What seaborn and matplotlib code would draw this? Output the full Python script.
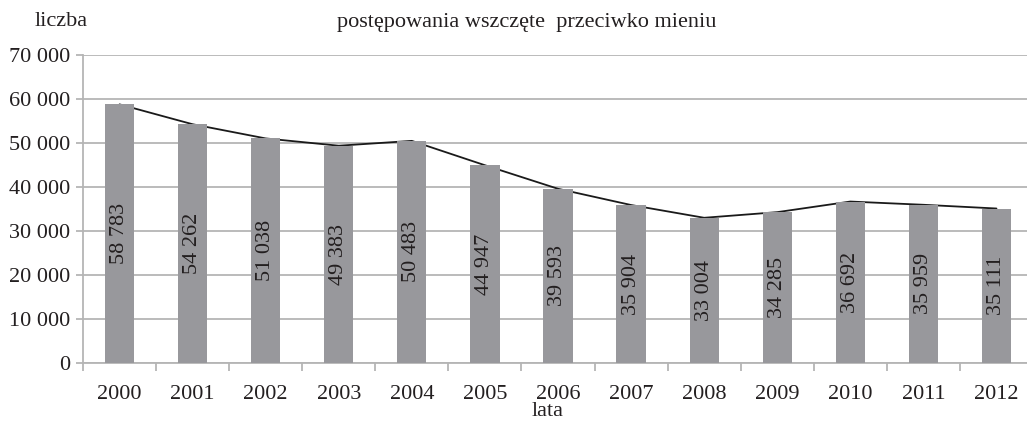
import matplotlib
matplotlib.use("Agg")
import matplotlib.pyplot as plt
import seaborn as sns
import pandas as pd
from matplotlib.ticker import FuncFormatter, FixedLocator

years = ["2000", "2001", "2002", "2003", "2004", "2005", "2006",
         "2007", "2008", "2009", "2010", "2011", "2012"]
values = [58783, 54262, 51038, 49383, 50483, 44947, 39593,
          35904, 33004, 34285, 36692, 35959, 35111]
title = "postępowania wszczęte  przeciwko mieniu"
ylabel = "liczba"
xlabel = "lata"

sns.set_theme(style="white")
plt.rcParams["font.family"] = ["Liberation Serif", "DejaVu Serif"]
TXT = "#231f20"
GRID = "#b5b5b5"
BAR = "#98989c"
FS = 16

df = pd.DataFrame({"rok": years, "liczba": values})

fig = plt.figure(figsize=(10.27, 4.38), dpi=100)
ax = fig.add_axes([83/1027, 1-363/438, 950/1027, 308/438])

sns.barplot(data=df, x="rok", y="liczba", color=BAR, width=0.4,
            saturation=1, ax=ax, zorder=3, linewidth=0)
ax.plot(range(len(values)), values, color="#1a1a1a", lw=1.3, zorder=2)

ax.set_ylim(0, 70000)
ax.set_xlim(-0.5, len(years) - 0.5)
ax.set_yticks(range(0, 70001, 10000))
ax.yaxis.set_major_formatter(FuncFormatter(lambda v, p: f"{int(v):,}".replace(",", " ")))
ax.grid(axis="y", color=GRID, lw=1.3, zorder=0)
ax.set_axisbelow(True)

for s in ["top", "right"]:
    ax.spines[s].set_visible(False)
for s in ["left", "bottom"]:
    ax.spines[s].set_color(GRID)
    ax.spines[s].set_linewidth(1.3)

ax.tick_params(axis="y", which="major", length=5, width=1.3, color=GRID,
               left=True, labelsize=FS, labelcolor=TXT, pad=4)
ax.tick_params(axis="x", which="major", length=0, labelsize=FS,
               labelcolor=TXT, pad=16)
ax.xaxis.set_minor_locator(FixedLocator([i - 0.5 for i in range(len(years) + 1)]))
ax.tick_params(axis="x", which="minor", length=6, width=1.3, color=GRID,
               bottom=True)

ax.set_xlabel("")
ax.set_ylabel("")

for i, v in enumerate(values):
    ax.text(i, v / 2, f"{v:,}".replace(",", " "), rotation=90,
            ha="center", va="center", fontsize=FS, color=TXT, zorder=4)

fig.text(35/1027, 1-22/438, ylabel, ha="left", va="center", fontsize=FS, color=TXT)
fig.text(527/1027, 1-22/438, title, ha="center", va="center", fontsize=FS, color=TXT)
fig.text(548/1027, 1-412/438, xlabel, ha="center", va="center", fontsize=FS, color=TXT)

fig.savefig("out.png", dpi=100, facecolor="white")
